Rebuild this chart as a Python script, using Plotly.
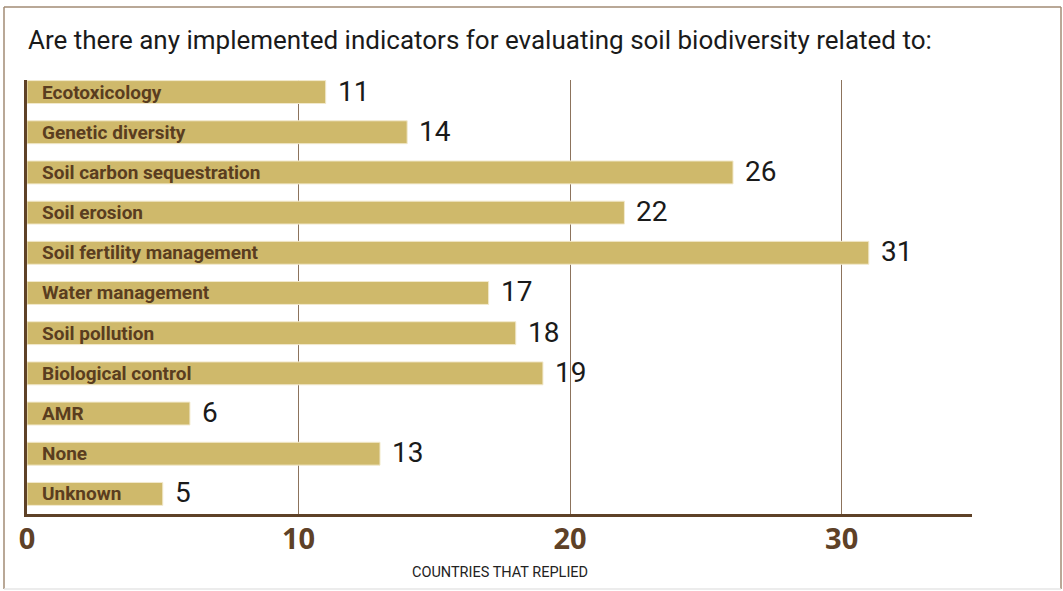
import plotly.graph_objects as go

# Survey responses: number of countries reporting each indicator type
categories = [
    "Ecotoxicology",
    "Genetic diversity",
    "Soil carbon sequestration",
    "Soil erosion",
    "Soil fertility management",
    "Water management",
    "Soil pollution",
    "Biological control",
    "AMR",
    "None",
    "Unknown",
]
countries = [11, 14, 26, 22, 31, 17, 18, 19, 6, 13, 5]
tick_values = [0, 10, 20, 30]

TITLE = "Are there any implemented indicators for evaluating soil biodiversity related to:"
X_TITLE = "COUNTRIES THAT REPLIED"

FONT = "Roboto, sans-serif"
BAR_FILL = "#cfb96b"
BAR_EDGE = "#f2e9cc"
LABEL_BROWN = "#5a3d1f"
AXIS_BROWN = "#5e4127"
GRID_BROWN = "#8c735c"
FRAME = "#a28b75"

W, H = 1063, 591
L, R, T, B = 27, 91, 80, 77

fig = go.Figure()

fig.add_trace(go.Bar(
    x=countries,
    y=categories,
    orientation="h",
    width=0.57,
    marker=dict(color=BAR_FILL, line=dict(color=BAR_EDGE, width=1)),
    hoverinfo="x+y",
    showlegend=False,
))

# Category names written inside the bars, from the left edge
annotations = [
    dict(
        x=0, y=cat, xref="x", yref="y",
        text=f"<b>{cat}</b>", showarrow=False,
        xanchor="left", yanchor="middle", xshift=13,
        font=dict(family=FONT, size=19, color=LABEL_BROWN),
    )
    for cat in categories
]

# Value labels just past each bar end
annotations += [
    dict(
        x=val, y=cat, xref="x", yref="y",
        text=str(val), showarrow=False,
        xanchor="left", yanchor="middle", xshift=10, yshift=1,
        font=dict(family=FONT, size=28, color="#1a1a1a"),
    )
    for cat, val in zip(categories, countries)
]

# Axis title under the tick labels
annotations.append(dict(
    x=0.5, y=-0.134, xref="paper", yref="paper",
    text=X_TITLE, showarrow=False, xanchor="center", yanchor="middle",
    font=dict(family=FONT, size=14.5, color="#222222"),
))

plot_w = W - L - R
plot_h = H - T - B


def px_x(p):
    return (p - L) / plot_w


def px_y(p):
    return (H - B - p) / plot_h


# Outer frame around the whole graphic
frame_left, frame_right, frame_top, frame_bottom = 4, 1061, 7, 589
shapes = [
    dict(type="line", xref="paper", yref="paper",
         x0=px_x(frame_left), x1=px_x(frame_right), y0=px_y(frame_top), y1=px_y(frame_top),
         line=dict(color=FRAME, width=1.5)),
    dict(type="line", xref="paper", yref="paper",
         x0=px_x(frame_left), x1=px_x(frame_left), y0=px_y(frame_top), y1=px_y(frame_bottom),
         line=dict(color=FRAME, width=1.5)),
    dict(type="line", xref="paper", yref="paper",
         x0=px_x(frame_right), x1=px_x(frame_right), y0=px_y(frame_top), y1=px_y(frame_bottom),
         line=dict(color=FRAME, width=1.5)),
    dict(type="line", xref="paper", yref="paper",
         x0=px_x(frame_left), x1=px_x(frame_right), y0=px_y(frame_bottom), y1=px_y(frame_bottom),
         line=dict(color="#e6e6e6", width=1.5)),
]

fig.update_layout(
    width=W, height=H,
    margin=dict(l=L, r=R, t=T, b=B, pad=0),
    paper_bgcolor="white",
    plot_bgcolor="white",
    title=dict(
        text=TITLE, x=28 / W, xref="container", xanchor="left",
        y=1 - 40 / H, yref="container", yanchor="middle",
        font=dict(family=FONT, size=26, color="#1a1a1a"),
    ),
    xaxis=dict(
        range=[0, 34.8],
        tickvals=tick_values,
        ticktext=[str(v) for v in tick_values],
        tickfont=dict(family="Noto Sans, sans-serif", size=29, color=AXIS_BROWN, weight="bold"),
        ticklabelstandoff=-3,
        showgrid=True, gridcolor=GRID_BROWN, gridwidth=1,
        showline=True, linecolor=AXIS_BROWN, linewidth=2.5,
        zeroline=False, ticks="",
        fixedrange=True,
    ),
    yaxis=dict(
        categoryorder="array", categoryarray=categories,
        range=[len(categories) - 0.5, -0.3],
        showticklabels=False, ticks="",
        showgrid=False, zeroline=False,
        showline=True, linecolor=AXIS_BROWN, linewidth=2.5,
        fixedrange=True,
    ),
    annotations=annotations,
    shapes=shapes,
    bargap=0.4,
)

fig.write_html("out.html")
